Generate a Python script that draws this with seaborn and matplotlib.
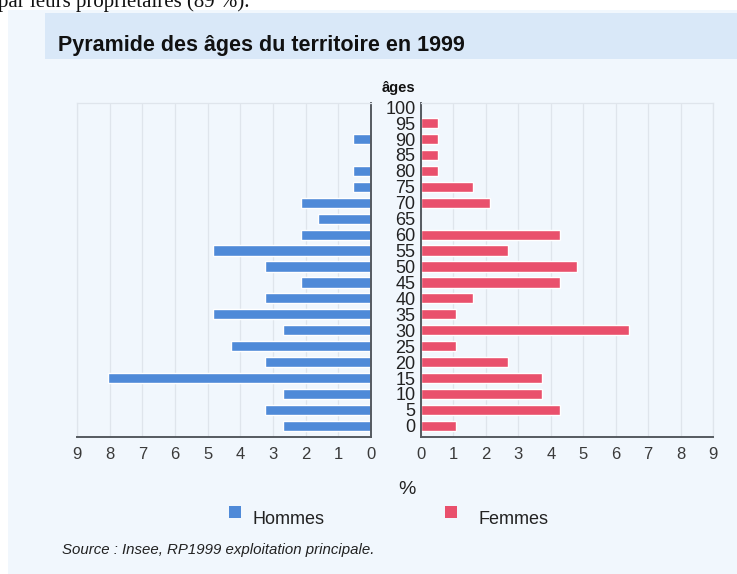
import numpy as np
import pandas as pd
import matplotlib
matplotlib.use("Agg")
import matplotlib.pyplot as plt
from matplotlib.patches import Rectangle
import seaborn as sns

ages = [0, 5, 10, 15, 20, 25, 30, 35, 40, 45, 50, 55, 60, 65, 70, 75, 80, 85, 90, 95]
hommes = [2.69, 3.23, 2.69, 8.06, 3.23, 4.30, 2.69, 4.84, 3.23, 2.15,
          3.23, 4.84, 2.15, 1.61, 2.15, 0.54, 0.54, 0.0, 0.54, 0.0]
femmes = [1.07, 4.28, 3.74, 3.74, 2.67, 1.07, 6.42, 1.07, 1.60, 4.28,
          4.81, 2.67, 4.28, 0.0, 2.13, 1.60, 0.53, 0.53, 0.53, 0.53]
age_ticks = list(range(0, 101, 5))
pct_ticks = list(range(0, 10))

BLUE = "#4f8ad8"
RED = "#e9506c"
GRID = "#dfe5ec"
DARK = "#555a60"

sns.set_style("white")
plt.rcParams['font.family'] = ['Liberation Sans', 'DejaVu Sans']

df_h = pd.DataFrame({'age': ages, 'pct': hommes})
df_f = pd.DataFrame({'age': ages, 'pct': femmes})

fig = plt.figure(figsize=(7.37, 5.74), dpi=100)
fig.patch.set_facecolor("white")

# fond du cadre + bandeau titre
fig.patches.append(Rectangle((8 / 737, 0), 1, (574 - 10) / 574, transform=fig.transFigure,
                             facecolor="#f1f7fd", edgecolor="none", zorder=-3))
fig.patches.append(Rectangle((45 / 737, (574 - 59) / 574), 1, 46 / 574, transform=fig.transFigure,
                             facecolor="#d9e8f8", edgecolor="none", zorder=-2))

ax_l = fig.add_axes([77 / 737, 137 / 574, 294 / 737, 334 / 574])
ax_r = fig.add_axes([421 / 737, 137 / 574, 292 / 737, 334 / 574])

sns.barplot(data=df_h, x='pct', y='age', orient='h', native_scale=True, color=BLUE,
            saturation=1, width=0.64, errorbar=None, ax=ax_l)
sns.barplot(data=df_f, x='pct', y='age', orient='h', native_scale=True, color=RED,
            saturation=1, width=0.64, errorbar=None, ax=ax_r)

for ax in (ax_l, ax_r):
    ax.set_facecolor("none")
    ax.set_ylim(-3.5, 101.3)
    ax.set_xticks(pct_ticks)
    ax.set_xlabel("")
    ax.set_ylabel("")
    ax.grid(axis='x', color=GRID, lw=0.9)
    ax.set_axisbelow(True)
    ax.tick_params(axis='x', length=0, labelsize=12, labelcolor="#3a3a3a", pad=7)
    for s in ax.spines.values():
        s.set_color(GRID)
        s.set_linewidth(0.9)
    ax.spines['bottom'].set_color(DARK)
    ax.spines['bottom'].set_linewidth(1.4)

ax_l.set_xlim(9, 0)
ax_l.set_yticks([])
ax_l.spines['right'].set_color(DARK)
ax_l.spines['right'].set_linewidth(1.4)

ax_r.set_xlim(0, 9)
ax_r.set_yticks(age_ticks)
ax_r.set_yticklabels([str(a) for a in age_ticks])
ax_r.tick_params(axis='y', length=3, width=1, color=DARK, labelsize=13,
                 labelcolor="#222222", pad=1)
ax_r.spines['left'].set_color(DARK)
ax_r.spines['left'].set_linewidth(1.4)

# textes
fig.text(-2 / 737, 1 - 7 / 574, "par leurs propriétaires (89 %).", family="Liberation Serif",
         fontsize=15, va='baseline', ha='left', color="#111111")
fig.text(58 / 737, 1 - 45 / 574, "Pyramide des âges du territoire en 1999", fontsize=15.5,
         fontweight='bold', va='center', ha='left', color="#111111")
fig.text(398 / 737, 1 - 88 / 574, "âges", fontsize=10.5, fontweight='bold',
         va='center', ha='center', color="#111111")
fig.text(407 / 737, 1 - 489 / 574, "%", fontsize=14, va='center', ha='center', color="#222222")

# légende
fig.patches.append(Rectangle((229 / 737, 1 - 518 / 574), 12 / 737, 12 / 574, transform=fig.transFigure,
                             facecolor=BLUE, edgecolor="none"))
fig.patches.append(Rectangle((445 / 737, 1 - 518 / 574), 12 / 737, 12 / 574, transform=fig.transFigure,
                             facecolor=RED, edgecolor="none"))
fig.text(252 / 737, 1 - 520 / 574, "Hommes", fontsize=13, va='center', ha='left', color="#222222")
fig.text(478 / 737, 1 - 520 / 574, "Femmes", fontsize=13, va='center', ha='left', color="#222222")

fig.text(62 / 737, 1 - 550 / 574, "Source : Insee, RP1999 exploitation principale.", fontsize=10.8,
         style='italic', va='center', ha='left', color="#222222")

fig.savefig("out.png", dpi=100)
